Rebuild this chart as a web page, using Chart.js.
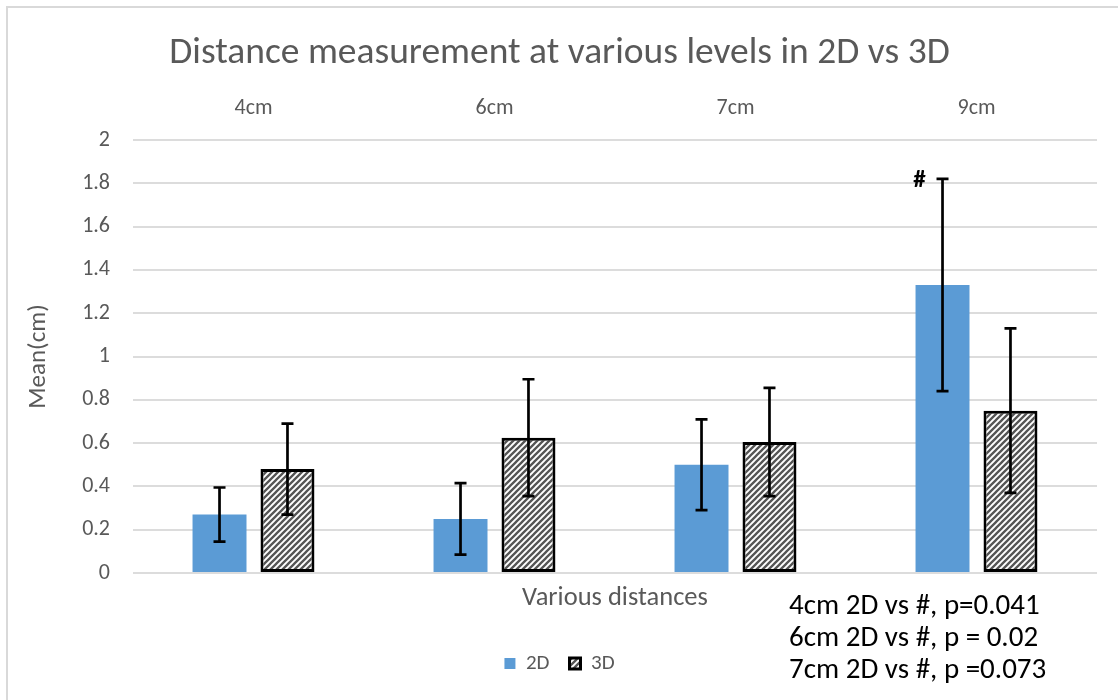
<!DOCTYPE html>
<html>
<head>
<meta charset="utf-8">
<script src="https://cdn.jsdelivr.net/npm/chart.js@4.4.1/dist/chart.umd.min.js"></script>
<style>
  html, body { margin: 0; padding: 0; background: #ffffff; }
  canvas { display: block; }
</style>
</head>
<body>
<canvas id="chart" width="1118" height="700"></canvas>
<script>
// Category labels (shown above the plot) and series values
const categories = ['4cm', '6cm', '7cm', '9cm'];
const mean2D = [0.27, 0.25, 0.50, 1.33];
const err2D  = [0.125, 0.165, 0.21, 0.49];
const mean3D = [0.48, 0.625, 0.605, 0.75];
const err3D  = [0.21, 0.27, 0.25, 0.38];
const yTickLabels = ['0', '0.2', '0.4', '0.6', '0.8', '1', '1.2', '1.4', '1.6', '1.8', '2'];
const seriesNames = ['2D', '3D'];
const noteLines = ['4cm 2D vs #, p=0.041', '6cm 2D vs #, p = 0.02', '7cm 2D vs #, p =0.073'];
// Significance marker: dataset index, category index, symbol
const markers = [[0, 3, '#']];

const FONT = 'Carlito, Lato, "Open Sans", sans-serif';
const GREY_TEXT = '#595959';

// Diagonal hatch fill for the 3D bars
function makeHatch() {
  const s = 6;
  const c = document.createElement('canvas');
  c.width = s; c.height = s;
  const g = c.getContext('2d');
  g.fillStyle = '#ffffff';
  g.fillRect(0, 0, s, s);
  g.strokeStyle = '#555555';
  g.lineWidth = 2.3;
  g.beginPath();
  g.moveTo(-1, s + 1); g.lineTo(s + 1, -1);
  g.moveTo(-1, 1); g.lineTo(1, -1);
  g.moveTo(s - 1, s + 1); g.lineTo(s + 1, s - 1);
  g.stroke();
  return g.createPattern(c, 'repeat');
}
const hatch = makeHatch();

// White page with a thin grey frame
const framePlugin = {
  id: 'frame',
  beforeDraw(chart) {
    const ctx = chart.ctx;
    ctx.save();
    ctx.fillStyle = '#ffffff';
    ctx.fillRect(0, 0, chart.width, chart.height);
    ctx.strokeStyle = '#d9d9d9';
    ctx.lineWidth = 2;
    ctx.strokeRect(7, 7, chart.width + 20, chart.height + 20);
    ctx.restore();
  }
};

// Error bars (mean ± error) drawn over each bar
const errorArrays = [err2D, err3D];
const errorBarPlugin = {
  id: 'errorBars',
  afterDatasetsDraw(chart) {
    const ctx = chart.ctx;
    const y = chart.scales.y;
    ctx.save();
    ctx.strokeStyle = '#000000';
    ctx.lineWidth = 2.7;
    chart.data.datasets.forEach((ds, di) => {
      const meta = chart.getDatasetMeta(di);
      meta.data.forEach((bar, i) => {
        const m = ds.data[i];
        const e = errorArrays[di][i];
        const yt = y.getPixelForValue(m + e);
        const yb = y.getPixelForValue(m - e);
        ctx.beginPath();
        ctx.moveTo(bar.x, yt); ctx.lineTo(bar.x, yb);
        ctx.moveTo(bar.x - 6, yt); ctx.lineTo(bar.x + 6, yt);
        ctx.moveTo(bar.x - 6, yb); ctx.lineTo(bar.x + 6, yb);
        ctx.stroke();
      });
    });
    // significance symbols beside the top of the error bar
    ctx.fillStyle = '#000000';
    ctx.font = '600 25px ' + FONT;
    ctx.textAlign = 'center';
    ctx.textBaseline = 'middle';
    markers.forEach(([di, i, sym]) => {
      const bar = chart.getDatasetMeta(di).data[i];
      const yt = y.getPixelForValue(chart.data.datasets[di].data[i] + errorArrays[di][i]);
      ctx.fillText(sym, bar.x - 23, yt + 2);
    });
    ctx.restore();
  }
};

// p-value notes in the lower right
const notesPlugin = {
  id: 'notes',
  afterDraw(chart) {
    const ctx = chart.ctx;
    ctx.save();
    ctx.fillStyle = '#000000';
    ctx.font = '29px ' + FONT;
    ctx.textAlign = 'left';
    ctx.textBaseline = 'middle';
    noteLines.forEach((t, k) => ctx.fillText(t, 789, 607 + k * 32));
    ctx.restore();
  }
};

new Chart(document.getElementById('chart'), {
  type: 'bar',
  data: {
    labels: categories,
    datasets: [
      {
        label: seriesNames[0],
        data: mean2D,
        backgroundColor: '#5b9bd5',
        borderWidth: 0,
        categoryPercentage: 0.564,
        barPercentage: 0.794
      },
      {
        label: seriesNames[1],
        data: mean3D,
        backgroundColor: hatch,
        borderColor: '#000000',
        borderWidth: 3,
        borderSkipped: false,
        categoryPercentage: 0.564,
        barPercentage: 0.794
      }
    ]
  },
  options: {
    responsive: false,
    animation: false,
    devicePixelRatio: 1,
    layout: { padding: { left: 22, right: 21, top: 0, bottom: 16 } },
    plugins: {
      title: {
        display: true,
        text: 'Distance measurement at various levels in 2D vs 3D',
        color: GREY_TEXT,
        font: { family: FONT, size: 37.5, weight: '300' },
        padding: { top: 31, bottom: 0 }
      },
      legend: {
        position: 'bottom',
        labels: {
          color: GREY_TEXT,
          font: { family: FONT, size: 21 },
          boxWidth: 11,
          boxHeight: 11,
          padding: 20
        }
      },
      tooltip: { enabled: false }
    },
    scales: {
      x: {
        position: 'bottom',
        grid: { display: false },
        border: { display: false },
        ticks: { display: false },
        title: {
          display: true,
          text: 'Various distances',
          color: GREY_TEXT,
          font: { family: FONT, size: 26.5 },
          padding: { top: 0, bottom: 19 }
        },
        afterFit(s) { s.height = 60; }
      },
      x2: {
        type: 'category',
        labels: categories,
        position: 'top',
        offset: true,
        grid: { display: false, drawTicks: false },
        border: { display: false },
        ticks: { color: GREY_TEXT, font: { family: FONT, size: 22 }, padding: 18 },
        afterFit(s) { s.height = 64; }
      },
      y: {
        min: 0,
        max: 2,
        ticks: {
          stepSize: 0.2,
          color: GREY_TEXT,
          font: { family: FONT, size: 22 },
          padding: 23,
          callback: (v) => yTickLabels[Math.round(v / 0.2)]
        },
        grid: { color: '#dcdcdc', lineWidth: 2, drawTicks: false },
        border: { display: false },
        title: {
          display: true,
          text: 'Mean(cm)',
          color: GREY_TEXT,
          font: { family: FONT, size: 25 },
          padding: { top: 2, bottom: 0 }
        },
        afterFit(s) { s.width = 111; }
      }
    }
  },
  plugins: [framePlugin, errorBarPlugin, notesPlugin]
});
</script>
</body>
</html>
